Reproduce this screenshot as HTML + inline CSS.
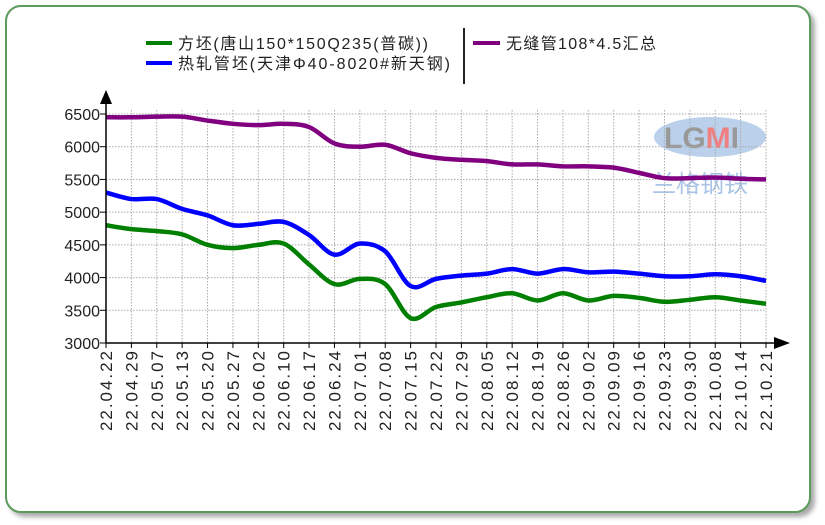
<!DOCTYPE html>
<html><head><meta charset="utf-8"><style>
body{margin:0;background:#fff;width:825px;height:525px;overflow:hidden}
#f{position:absolute;left:5px;top:5px;width:802px;height:504px;border:2px solid #5a9a5a;border-radius:16px;box-shadow:4px 4px 5px #aaa;background:#fff}
svg{position:absolute;left:0;top:0}
text{font-family:"Liberation Sans","Noto Sans CJK SC",sans-serif;fill:#222}
</style></head><body>
<div id="f"></div>
<svg id="s" width="825" height="525"></svg>
<script>
const s=document.getElementById('s');let h='';
const x0=106,dx=25.385,yv=v=>343-(v-3000)*229/3500;
const labels=["22.04.22","22.04.29","22.05.07","22.05.13","22.05.20","22.05.27","22.06.02","22.06.10","22.06.17","22.06.24","22.07.01","22.07.08","22.07.15","22.07.22","22.07.29","22.08.05","22.08.12","22.08.19","22.08.26","22.09.02","22.09.09","22.09.16","22.09.23","22.09.30","22.10.08","22.10.14","22.10.21"];
h+='<ellipse cx="710" cy="137" rx="56" ry="20" fill="#a9c4e6" opacity="0.8"/><text x="664" y="148" font-size="30" font-weight="bold" style="fill:#999">LG<tspan style="fill:#f08080">M</tspan>I</text><text x="652" y="192" font-size="24" style="fill:#a9c4e6">兰格钢铁</text>';
for(let v=3000;v<=6500;v+=500){let y=yv(v);h+=`<line x1="${x0}" x2="766" y1="${y}" y2="${y}" stroke="#aaa" stroke-dasharray="1.5,1.5"/><line x1="100" x2="${x0}" y1="${y}" y2="${y}" stroke="#000"/><text x="100" y="${y+6}" font-size="16" text-anchor="end">${v}</text>`;}
labels.forEach((l,i)=>{let x=x0+i*dx;if(i>0)h+=`<line x1="${x}" x2="${x}" y1="110" y2="343" stroke="#aaa" stroke-dasharray="1.5,1.5"/>`;h+=`<line x1="${x}" x2="${x}" y1="343" y2="348" stroke="#000"/><text transform="translate(${x+6},351) rotate(-90)" font-size="17" text-anchor="end" textLength="80">${l}</text>`;});
const P=[6450,6450,6460,6460,6400,6350,6330,6350,6300,6050,6000,6030,5900,5830,5800,5780,5730,5730,5700,5700,5680,5600,5520,5520,5530,5510,5500];
const B=[5300,5200,5200,5050,4950,4800,4820,4850,4650,4350,4520,4400,3870,3980,4030,4060,4130,4060,4130,4080,4090,4060,4020,4020,4050,4020,3950];
const G=[4800,4740,4710,4660,4500,4450,4500,4520,4200,3900,3980,3900,3380,3550,3620,3700,3760,3650,3760,3650,3720,3690,3630,3660,3700,3650,3600];
function path(d){let p=d.map((v,i)=>[x0+i*dx,yv(v)]);let o=`M${p[0]}`;for(let i=0;i<p.length-1;i++){let a=p[i-1]||p[i],b=p[i],c=p[i+1],e=p[i+2]||c;o+=`C${b[0]+(c[0]-a[0])/6},${b[1]+(c[1]-a[1])/6} ${c[0]-(e[0]-b[0])/6},${c[1]-(e[1]-b[1])/6} ${c[0]},${c[1]}`;}return o;}
[[P,'#800080'],[B,'#0000ff'],[G,'#008000']].forEach(([d,c])=>h+=`<path d="${path(d)}" fill="none" stroke="${c}" stroke-width="4.5" stroke-linejoin="round"/>`);
h+='<line x1="106" y1="343" x2="106" y2="100" stroke="#000" stroke-width="1.5"/><polygon points="100,104 112,104 106,90" fill="#000"/><line x1="106" y1="343" x2="776" y2="343" stroke="#000" stroke-width="1.5"/><polygon points="774,337 774,349 790,343" fill="#000"/>';
h+='<line x1="146" x2="172" y1="43" y2="43" stroke="#008000" stroke-width="4"/><text x="178" y="49" font-size="16" textLength="250">方坯(唐山150*150Q235(普碳))</text>';
h+='<line x1="146" x2="172" y1="63" y2="63" stroke="#0000ff" stroke-width="4"/><text x="178" y="69" font-size="16" textLength="272">热轧管坯(天津Φ40-8020#新天钢)</text>';
h+='<line x1="464" x2="464" y1="28" y2="84" stroke="#222" stroke-width="2"/>';
h+='<line x1="473" x2="500" y1="43" y2="43" stroke="#800080" stroke-width="4"/><text x="506" y="49" font-size="16" textLength="150">无缝管108*4.5汇总</text>';
s.innerHTML=h;
</script>
</body></html>
